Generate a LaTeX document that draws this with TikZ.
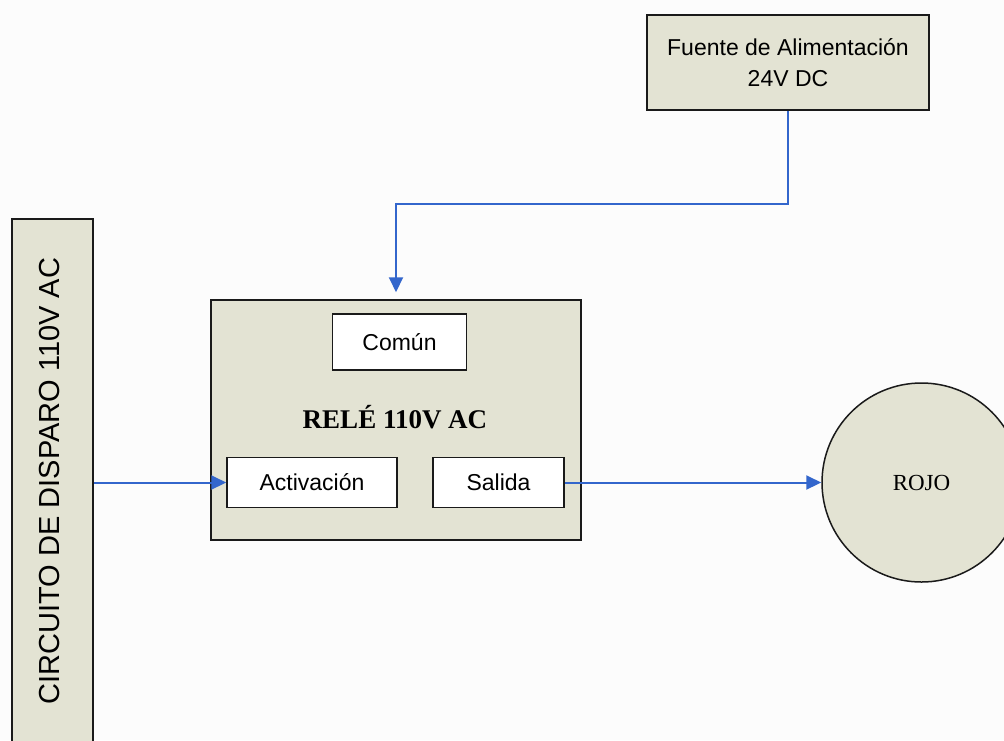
\documentclass[tikz,border=0pt]{standalone}
\usepackage{fontspec}
\setmainfont{Liberation Serif}
\setsansfont{Liberation Sans}
\usetikzlibrary{arrows.meta}
\definecolor{panel}{HTML}{E3E3D3}
\definecolor{wire}{HTML}{3366CC}
\definecolor{ink}{HTML}{1A1A1A}
\tikzset{
  panelbox/.style={draw=ink, line width=0.75pt, fill=panel, inner sep=0pt},
  portbox/.style={draw=ink, line width=0.75pt, fill=white, inner sep=0pt,
    font=\sffamily\fontsize{11.5}{14}\selectfont},
  conn/.style={draw=wire, line width=1pt, -{Triangle[length=7.5pt,width=7pt]}},
  wireline/.style={draw=wire, line width=1pt}
}
\begin{document}
\begin{tikzpicture}[x=0.5pt, y=-0.5pt]
  \clip (0,0) rectangle (1004,740);
  \fill[white!99!black] (0,0) rectangle (1004,740);

  % power supply
  \node[panelbox, minimum width=141pt, minimum height=47.5pt, align=center,
        font=\sffamily\fontsize{11.5}{15.5}\selectfont] (fuente) at (788,62.5)
        {Fuente de Alimentación\\24V DC};

  % trigger circuit (vertical bar)
  \node[panelbox, minimum width=40.5pt, minimum height=262pt] (circ) at (52.5,481) {};
  \node[rotate=90, font=\sffamily\fontsize{14.5}{17}\selectfont] (circtxt) at (50,481)
        {CIRCUITO DE DISPARO 110V AC};

  % relay
  \node[panelbox, minimum width=185pt, minimum height=120pt] (rele) at (396,420) {};
  \node[portbox, minimum width=67pt, minimum height=28pt] (comun) at (399.5,342) {Común};
  \node[font=\bfseries\fontsize{13.5}{16}\selectfont] (reletxt) at (395,417) {RELÉ 110V AC};
  \node[portbox, minimum width=85pt, minimum height=25pt] (act) at (312,482.5) {Activación};
  \node[portbox, minimum width=65.5pt, minimum height=25pt] (sal) at (498.5,482.5) {Salida};

  % lamp
  \node[panelbox, circle, minimum size=99.5pt, font=\fontsize{11.5}{14}\selectfont]
        (rojo) at (921.5,482.5) {ROJO};

  % connections
  \coordinate (bend) at (0,204);
  \draw[conn, shorten >=3.5pt] (fuente.south) -- (fuente.south |- bend) -| (rele.north);
  \draw[conn] (circ.east |- act.west) -- (act.west);
  \draw[conn] (sal.east) -- (rojo.west);
\end{tikzpicture}
\end{document}
